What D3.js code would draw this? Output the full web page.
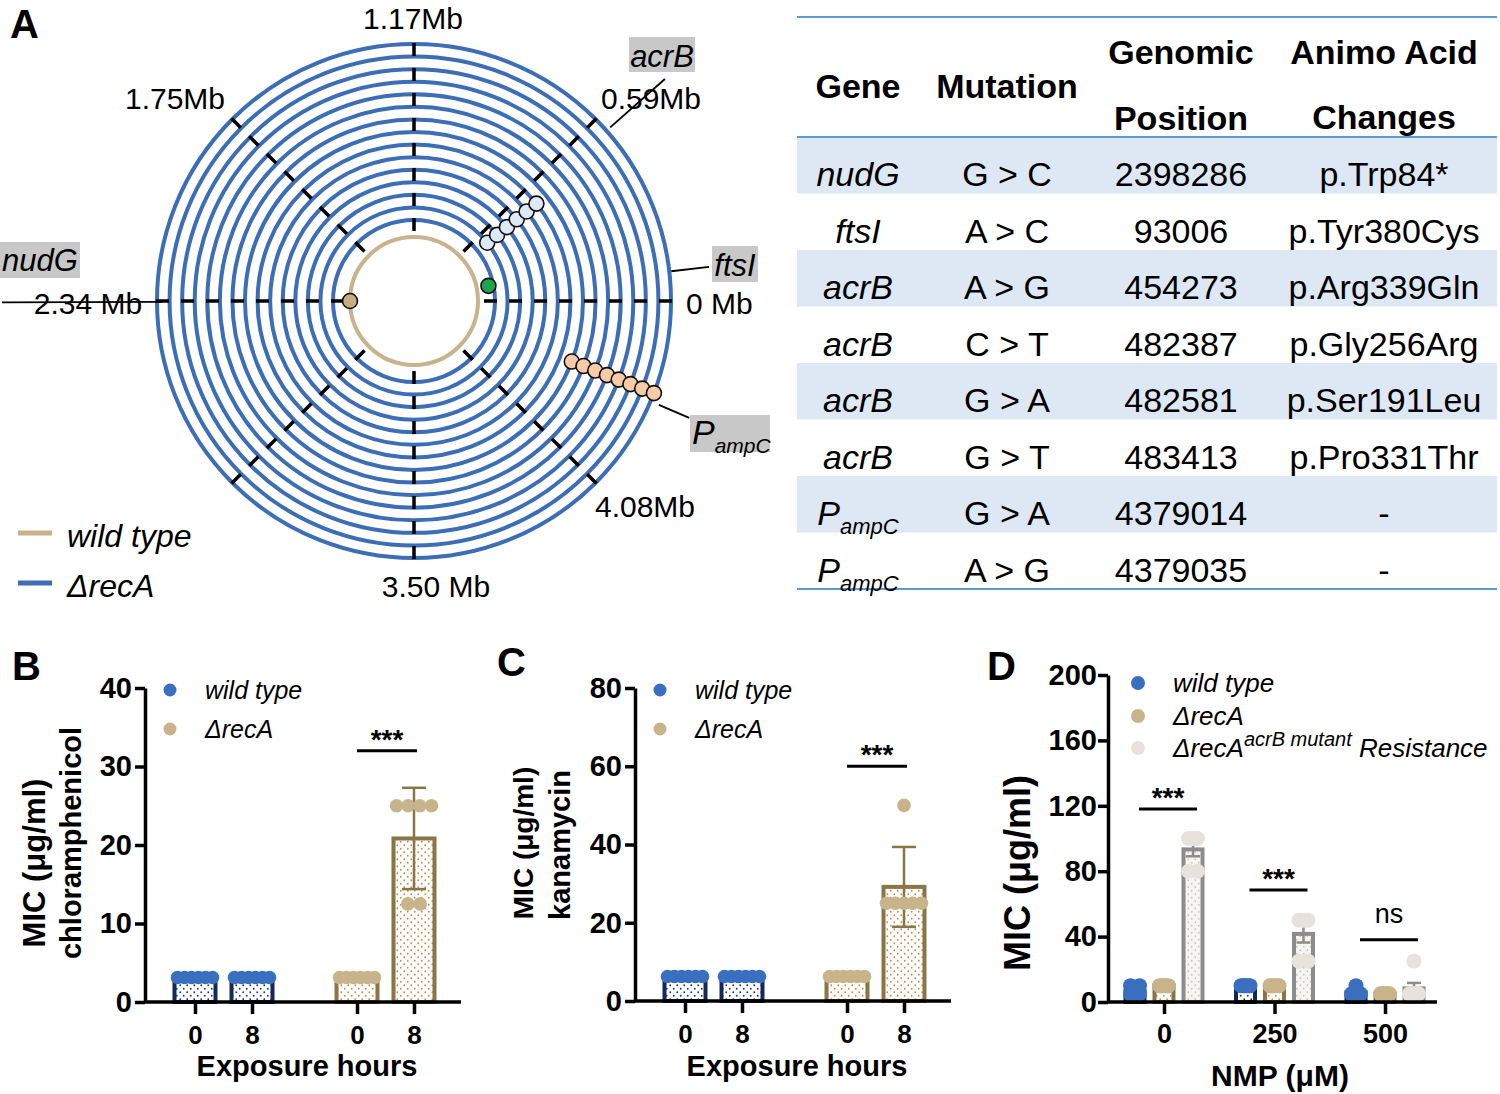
<!DOCTYPE html>
<html>
<head>
<meta charset="utf-8">
<style>
  body { margin: 0; background: #fff; }
  text { font-family: "Liberation Sans", Arial, sans-serif; }
</style>
</head>
<body>
<script src="https://d3js.org/d3.v7.min.js"></script>
<div class="figure"></div>
<script>
var FONT = '"Liberation Sans", Arial, sans-serif';

// ---------- panel A data ----------
var ringCount = 15;                       // passages of the ΔrecA strain
var spokeAngles = [0, 45, 90, 135, 180, 225, 270, 315];
var spokeLabels = ["0 Mb", "0.59Mb", "1.17Mb", "1.75Mb", "2.34 Mb", "", "3.50 Mb", "4.08Mb"];
var markerGenes = ["nudG", "ftsI", "acrB", "PampC"];
var markerAngles = [180, 11.5, 38.5, -21];
var markerRings = [["wt"], [-0.4], [1, 2, 3, 4, 5, 6], [7, 8, 9, 10, 11, 12, 13, 14]];
var markerColors = ["#c6ae84", "#1ea44c", "#dfe9f5", "#f8cba8"];

// ---------- table data ----------
var tblGene = ["nudG", "ftsI", "acrB", "acrB", "acrB", "acrB", "PampC", "PampC"];
var tblMutation = ["G > C", "A > C", "A > G", "C > T", "G > A", "G > T", "G > A", "A > G"];
var tblPosition = ["2398286", "93006", "454273", "482387", "482581", "483413", "4379014", "4379035"];
var tblChange = ["p.Trp84*", "p.Tyr380Cys", "p.Arg339Gln", "p.Gly256Arg", "p.Ser191Leu", "p.Pro331Thr", "-", "-"];

// ---------- panels B, C data (MIC, µg/ml) ----------
var hours = ["0", "8"];
var strains = ["wt", "recA"];
var chlWild = [[3.125, 3.125, 3.125, 3.125, 3.125, 3.125], [3.125, 3.125, 3.125, 3.125, 3.125, 3.125]];
var chlRecA = [[3.125, 3.125, 3.125, 3.125, 3.125, 3.125], [25, 25, 25, 25, 12.5, 12.5]];
var kanWild = [[6.25, 6.25, 6.25, 6.25, 6.25, 6.25], [6.25, 6.25, 6.25, 6.25, 6.25, 6.25]];
var kanRecA = [[6.25, 6.25, 6.25, 6.25, 6.25, 6.25], [50, 25, 25, 25, 25, 25]];

// ---------- panel D data ----------
var nmpDoses = ["0", "250", "500"];
var dStrains = ["wt", "recA", "res"];
var nmpWild = [[10, 10, 5, 5, 5, 5], [10, 10, 10, 10, 10, 10], [10, 5, 5, 5, 5, 5]];
var nmpRecA = [[10, 10, 10, 10, 10, 10], [10, 10, 10, 10, 10, 10], [5, 5, 5, 5, 5, 5]];
var nmpRes = [[100, 100, 100, 100, 80, 80], [50, 50, 50, 50, 25, 25], [25, 5, 5, 5, 5, 5]];

var svg = d3.select(".figure").append("svg")
    .attr("width", 1500)
    .attr("height", 1094)
    .attr("font-family", FONT);

// dotted bar fills
var defs = svg.append("defs");
function dotPattern(id, bg, dot) {
  var p = defs.append("pattern").attr("id", id)
      .attr("width", 7).attr("height", 7).attr("patternUnits", "userSpaceOnUse");
  p.append("rect").attr("width", 7).attr("height", 7).attr("fill", bg);
  p.append("circle").attr("cx", 1.75).attr("cy", 1.75).attr("r", 0.9).attr("fill", dot);
  p.append("circle").attr("cx", 5.25).attr("cy", 5.25).attr("r", 0.9).attr("fill", dot);
}
dotPattern("fillWt", "#ffffff", "#1c3266");
dotPattern("fillRecA", "#fdfbf6", "#ab9670");
dotPattern("fillRes", "#f7f5f1", "#c9c6c0");

var style = {
  wt:   { dot: "#3a6fbf", stroke: "#14285a", fill: "url(#fillWt)" },
  recA: { dot: "#c9b38b", stroke: "#8a7546", fill: "url(#fillRecA)" },
  res:  { dot: "#e7e3dc", stroke: "#8c8c8c", fill: "url(#fillRes)" }
};

function panelLetter(t, x, y) {
  svg.append("text").attr("x", x).attr("y", y).attr("font-size", 40)
      .attr("font-weight", "bold").text(t);
}

// ================= PANEL A =================
panelLetter("A", 10, 38);
var cx = 414, cy = 301;
function polar(r, deg) {
  var a = deg * Math.PI / 180;
  return [cx + r * Math.cos(a), cy - r * Math.sin(a)];
}
var rRing = d3.scaleLinear().domain([0, ringCount - 1]).range([81, 257]);
var rWild = 64;
function markerRadius(k) { return k === "wt" ? rWild : rRing(k); }

var gA = svg.append("g");
gA.selectAll("circle.ring")
  .data(d3.range(ringCount))
  .join("circle")
    .attr("class", "ring")
    .attr("cx", cx).attr("cy", cy)
    .attr("r", function(d) { return rRing(d); })
    .attr("fill", "none")
    .attr("stroke", "#3d6db5")
    .attr("stroke-width", 4);

gA.selectAll("line.spoke")
  .data(spokeAngles)
  .join("line")
    .attr("class", "spoke")
    .attr("x1", function(d) { return polar(258, d)[0]; })
    .attr("y1", function(d) { return polar(258, d)[1]; })
    .attr("x2", function(d) { return polar(66, d)[0]; })
    .attr("y2", function(d) { return polar(66, d)[1]; })
    .attr("stroke", "#000")
    .attr("stroke-width", 3.5)
    .attr("stroke-dasharray", "13,12");

gA.append("circle")
    .attr("cx", cx).attr("cy", cy).attr("r", rWild)
    .attr("fill", "none").attr("stroke", "#c8b38c").attr("stroke-width", 4);

// mutation markers
var markerPts = [];
markerGenes.forEach(function(g, i) {
  markerRings[i].forEach(function(k) {
    var p = polar(markerRadius(k), markerAngles[i]);
    markerPts.push({ x: p[0], y: p[1], c: markerColors[i] });
  });
});
gA.selectAll("circle.mut")
  .data(markerPts)
  .join("circle")
    .attr("class", "mut")
    .attr("cx", function(d) { return d.x; })
    .attr("cy", function(d) { return d.y; })
    .attr("r", 7.5)
    .attr("fill", function(d) { return d.c; })
    .attr("stroke", "#111")
    .attr("stroke-width", 1.6);

// spoke labels
var spokeLabelPos = [[686, 314, "start"], [651, 109, "middle"], [413, 29, "middle"], [175, 109, "middle"],
                     [88, 314, "middle"], null, [436, 597, "middle"], [645, 517, "middle"]];
spokeLabels.forEach(function(t, i) {
  if (!t) return;
  var p = spokeLabelPos[i];
  gA.append("text").attr("x", p[0]).attr("y", p[1]).attr("text-anchor", p[2])
      .attr("font-size", 30).text(t);
});

// gene call-outs (grey boxes + leaders)
var calloutBox = [[629, 37, 66, 35], [0, 242, 80, 36], [712, 246, 46, 36], [690, 415, 80, 37]];
var calloutText = [[662, 67], [40, 271], [735, 276], [692, 444]];
var calloutLeader = [[41.5, 262, 335], [180.2, 252, 412], [6.6, 259, 297], [-23, 266, 299]];
var geneOrder = ["acrB", "nudG", "ftsI", "PampC"];
geneOrder.forEach(function(g, i) {
  var b = calloutBox[i];
  gA.append("rect").attr("x", b[0]).attr("y", b[1]).attr("width", b[2]).attr("height", b[3])
      .attr("fill", "#c8c8c8");
  var t = gA.append("text").attr("x", calloutText[i][0]).attr("y", calloutText[i][1])
      .attr("font-size", 31).attr("font-style", "italic")
      .attr("text-anchor", g === "PampC" ? "start" : "middle");
  if (g === "PampC") {
    t.append("tspan").attr("font-size", 34).text("P");
    t.append("tspan").attr("font-size", 21).attr("dy", 9).text("ampC");
  } else {
    t.text(g);
  }
});
svg.selectAll("line.leader")
  .data(calloutLeader)
  .join("line")
    .attr("class", "leader")
    .attr("x1", function(d) { return polar(d[1], d[0])[0]; })
    .attr("y1", function(d) { return polar(d[1], d[0])[1]; })
    .attr("x2", function(d) { return polar(d[2], d[0])[0]; })
    .attr("y2", function(d) { return polar(d[2], d[0])[1]; })
    .attr("stroke", "#000")
    .attr("stroke-width", 1.8);

// legend A
var legA = [["wild type", "#c8b38c", 533], ["ΔrecA", "#3d6db5", 583]];
legA.forEach(function(l) {
  svg.append("line").attr("x1", 18).attr("x2", 52).attr("y1", l[2]).attr("y2", l[2])
      .attr("stroke", l[1]).attr("stroke-width", 5);
  svg.append("text").attr("x", 67).attr("y", l[2] + 14).attr("font-size", 32)
      .attr("font-style", "italic").text(l[0]);
});

// ================= TABLE =================
var tbl = svg.append("g");
var colX = [858, 1007, 1181, 1384];
var rowTop = 137, rowH = 56.5;
var rowY = d3.scaleLinear().domain([0, 1]).range([rowTop, rowTop + rowH]);
tbl.selectAll("rect.shade")
  .data(d3.range(tblGene.length).filter(function(i) { return i % 2 === 0; }))
  .join("rect")
    .attr("class", "shade")
    .attr("x", 797).attr("width", 700)
    .attr("y", function(i) { return rowY(i); })
    .attr("height", rowH)
    .attr("fill", "#dde8f4");
[17, rowTop, rowY(tblGene.length)].forEach(function(yy) {
  tbl.append("line").attr("x1", 797).attr("x2", 1497).attr("y1", yy).attr("y2", yy)
      .attr("stroke", "#5b9bd5").attr("stroke-width", 2);
});
var heads = [["Gene", colX[0], 98], ["Mutation", colX[1], 98], ["Genomic", colX[2], 64],
             ["Position", colX[2], 130], ["Animo Acid", colX[3], 64], ["Changes", colX[3], 129]];
heads.forEach(function(h) {
  tbl.append("text").attr("x", h[1]).attr("y", h[2]).attr("text-anchor", "middle")
      .attr("font-size", 34).attr("font-weight", "bold").text(h[0]);
});
tblGene.forEach(function(g, i) {
  var yb = rowY(i) + 49;
  var t = tbl.append("text").attr("x", colX[0]).attr("y", yb).attr("text-anchor", "middle")
      .attr("font-size", 34).attr("font-style", "italic");
  if (g === "PampC") {
    t.append("tspan").text("P");
    t.append("tspan").attr("font-size", 22).attr("dy", 9).text("ampC");
  } else {
    t.text(g);
  }
  [tblMutation[i], tblPosition[i], tblChange[i]].forEach(function(v, j) {
    tbl.append("text").attr("x", colX[j + 1]).attr("y", yb).attr("text-anchor", "middle")
        .attr("font-size", 34).text(v);
  });
});

// ================= shared bar helpers =================
function spread(vals, maxW, step) {
  var out = [];
  d3.group(vals, function(v) { return v; }).forEach(function(arr, v) {
    var n = arr.length, s = n > 1 ? Math.min(step, maxW / (n - 1)) : 0;
    arr.forEach(function(_, i) { out.push({ v: v, dx: (i - (n - 1) / 2) * s }); });
  });
  return out;
}
function styleAxis(sel, fs) {
  sel.attr("font-family", FONT);
  sel.select(".domain").attr("stroke-width", 3.5);
  sel.selectAll(".tick line").attr("stroke-width", 3.5);
  sel.selectAll(".tick text").attr("font-size", fs).attr("font-weight", "bold").attr("fill", "#000");
}
function drawBars(g, bars, y, y0, cfg) {
  // bars: [{x, vals, s}]
  bars.forEach(function(b) {
    var m = d3.mean(b.vals);
    g.append("rect")
        .attr("x", b.x - cfg.barW / 2).attr("width", cfg.barW)
        .attr("y", y(m)).attr("height", y0 - y(m))
        .attr("fill", style[b.s].fill)
        .attr("stroke", style[b.s].stroke).attr("stroke-width", 4);
  });
  bars.forEach(function(b) {
    var m = d3.mean(b.vals), e = d3.deviation(b.vals) || 0;
    if (cfg.sem) e = e / Math.sqrt(b.vals.length);
    if (e <= 0) return;
    var eg = g.append("g").attr("stroke", style[b.s].stroke).attr("stroke-width", cfg.errW);
    eg.append("line").attr("x1", b.x).attr("x2", b.x).attr("y1", y(m - e)).attr("y2", y(m + e));
    [m - e, m + e].forEach(function(v) {
      eg.append("line").attr("x1", b.x - cfg.cap).attr("x2", b.x + cfg.cap)
          .attr("y1", y(v)).attr("y2", y(v));
    });
  });
  bars.forEach(function(b) {
    g.selectAll(null)
      .data(spread(b.vals, cfg.spreadW, cfg.step))
      .join("circle")
        .attr("cx", function(d) { return b.x + d.dx; })
        .attr("cy", function(d) { return y(d.v); })
        .attr("r", cfg.dotR)
        .attr("fill", style[b.s].dot);
  });
}
function sigMark(g, x1, x2, yy, label, bold, offset, fs) {
  g.append("line").attr("x1", x1).attr("x2", x2).attr("y1", yy).attr("y2", yy)
      .attr("stroke", "#000").attr("stroke-width", 3);
  g.append("text").attr("x", (x1 + x2) / 2).attr("y", yy - offset).attr("text-anchor", "middle")
      .attr("font-size", fs).attr("font-weight", bold ? "bold" : "normal").text(label);
}
function yTitle(x, yc, fs, txt) {
  svg.append("text").attr("transform", "translate(" + x + "," + yc + ") rotate(-90)")
      .attr("text-anchor", "middle").attr("font-size", fs).attr("font-weight", "bold").text(txt);
}
function legendDot(x, yy, r, col, fs, txt, sup, rest) {
  svg.append("circle").attr("cx", x).attr("cy", yy).attr("r", r).attr("fill", col);
  var t = svg.append("text").attr("x", x + 35).attr("y", yy + 9).attr("font-size", fs)
      .attr("font-style", "italic").text(txt);
  if (sup) {
    t.append("tspan").attr("font-size", 20).attr("dy", -11).text(sup);
    t.append("tspan").attr("dy", 11).text(rest);
  }
}

// ================= PANELS B, C =================
function exposurePanel(cfg) {
  var y = d3.scaleLinear().domain([0, cfg.yMax]).range([cfg.y0, cfg.y1]);
  var xG = d3.scalePoint().domain(strains).range([cfg.ax + 78.5, cfg.ax + 240.5]);
  var xI = d3.scalePoint().domain(hours).range([-28.5, 28.5]);
  var g = svg.append("g");
  var bars = [];
  strains.forEach(function(s) {
    hours.forEach(function(h, hi) {
      bars.push({ x: xG(s) + xI(h), vals: cfg.data[s][hi], s: s, key: s + "|" + h });
    });
  });
  drawBars(g, bars, y, cfg.y0, { barW: 41, errW: 2.5, cap: 12, sem: false, spreadW: 35, step: 12.3, dotR: 6.8 });

  var yAx = g.append("g").attr("transform", "translate(" + cfg.ax + ",0)")
      .call(d3.axisLeft(y).tickValues(cfg.ticks).tickSize(10).tickSizeOuter(0).tickPadding(3));
  styleAxis(yAx, 29);
  var xOrd = d3.scaleOrdinal().domain(bars.map(function(b) { return b.key; }))
      .range(bars.map(function(b) { return b.x; }));
  var xAx = g.append("g").attr("transform", "translate(0," + cfg.y0 + ")")
      .call(d3.axisBottom(xOrd).tickSize(12).tickPadding(12)
        .tickFormat(function(d) { return d.split("|")[1]; }));
  styleAxis(xAx, 26);
  xAx.select(".domain").remove();
  g.append("line").attr("x1", cfg.ax).attr("x2", cfg.ax + 316).attr("y1", cfg.y0).attr("y2", cfg.y0)
      .attr("stroke", "#000").attr("stroke-width", 3.5);

  var b3 = bars[2], b4 = bars[3];
  sigMark(g, b3.x, b4.x + 3, y(cfg.sigY), "***", true, 2, 28);

  svg.append("text").attr("x", cfg.ax + 162).attr("y", 1076).attr("text-anchor", "middle")
      .attr("font-size", 29).attr("font-weight", "bold").text("Exposure hours");
  legendDot(cfg.ax + 25, 690, 6.5, style.wt.dot, 25, "wild type");
  legendDot(cfg.ax + 25, 729, 6.5, style.recA.dot, 25, "ΔrecA");
}

panelLetter("B", 12, 680);
exposurePanel({ ax: 145, y0: 1002, y1: 688, yMax: 40, ticks: [0, 10, 20, 30, 40],
  data: { wt: chlWild, recA: chlRecA }, sigY: 32 });
yTitle(45, 863, 31, "MIC (μg/ml)");
yTitle(81, 843, 29, "chloramphenicol");

panelLetter("C", 497, 676);
exposurePanel({ ax: 635, y0: 1001, y1: 688, yMax: 80, ticks: [0, 20, 40, 60, 80],
  data: { wt: kanWild, recA: kanRecA }, sigY: 60 });
yTitle(533, 843, 28, "MIC (μg/ml)");
yTitle(570, 845, 29, "kanamycin");

// ================= PANEL D =================
panelLetter("D", 987, 680);
(function() {
  var ax = 1108, y0 = 1002, y1 = 675;
  var y = d3.scaleLinear().domain([0, 200]).range([y0, y1]);
  var xG = d3.scalePoint().domain(nmpDoses).range([ax + 56, ax + 277]);
  var xI = d3.scalePoint().domain(dStrains).range([-29, 29]);
  var src = { wt: nmpWild, recA: nmpRecA, res: nmpRes };
  var g = svg.append("g");
  var bars = [];
  nmpDoses.forEach(function(dose, di) {
    dStrains.forEach(function(s) {
      bars.push({ x: xG(dose) + xI(s), vals: src[s][di], s: s, dose: dose });
    });
  });
  drawBars(g, bars, y, y0, { barW: 19, errW: 2.5, cap: 7, sem: true, spreadW: 9, step: 9, dotR: 7.5 });

  var yAx = g.append("g").attr("transform", "translate(" + ax + ",0)")
      .call(d3.axisLeft(y).tickValues([0, 40, 80, 120, 160, 200]).tickSize(10).tickSizeOuter(0).tickPadding(1));
  styleAxis(yAx, 29);
  var xAx = g.append("g").attr("transform", "translate(0," + y0 + ")")
      .call(d3.axisBottom(xG).tickSize(12).tickPadding(10));
  styleAxis(xAx, 27);
  xAx.select(".domain").remove();
  g.append("line").attr("x1", ax).attr("x2", ax + 329).attr("y1", y0).attr("y2", y0)
      .attr("stroke", "#000").attr("stroke-width", 3.5);

  var sigLabels = ["***", "***", "ns"];
  var sigYs = [118, 68.5, 38];
  nmpDoses.forEach(function(dose, di) {
    var x1 = xG(dose) + xI("wt") + 4, x2 = xG(dose) + xI("res") + 4;
    if (sigLabels[di] === "ns") sigMark(g, x1, x2, y(sigYs[di]), "ns", false, 17, 27);
    else sigMark(g, x1, x2, y(sigYs[di]), "***", true, 2, 28);
  });

  svg.append("text").attr("x", 1280).attr("y", 1086).attr("text-anchor", "middle")
      .attr("font-size", 30).attr("font-weight", "bold").text("NMP (μM)");
  yTitle(1030, 873, 36, "MIC (μg/ml)");

  legendDot(1138, 683, 7, style.wt.dot, 26, "wild type");
  legendDot(1138, 716, 7, style.recA.dot, 26, "ΔrecA");
  legendDot(1138, 748, 7, style.res.dot, 26, "ΔrecA", "acrB mutant", " Resistance");
})();
</script>
</body>
</html>
